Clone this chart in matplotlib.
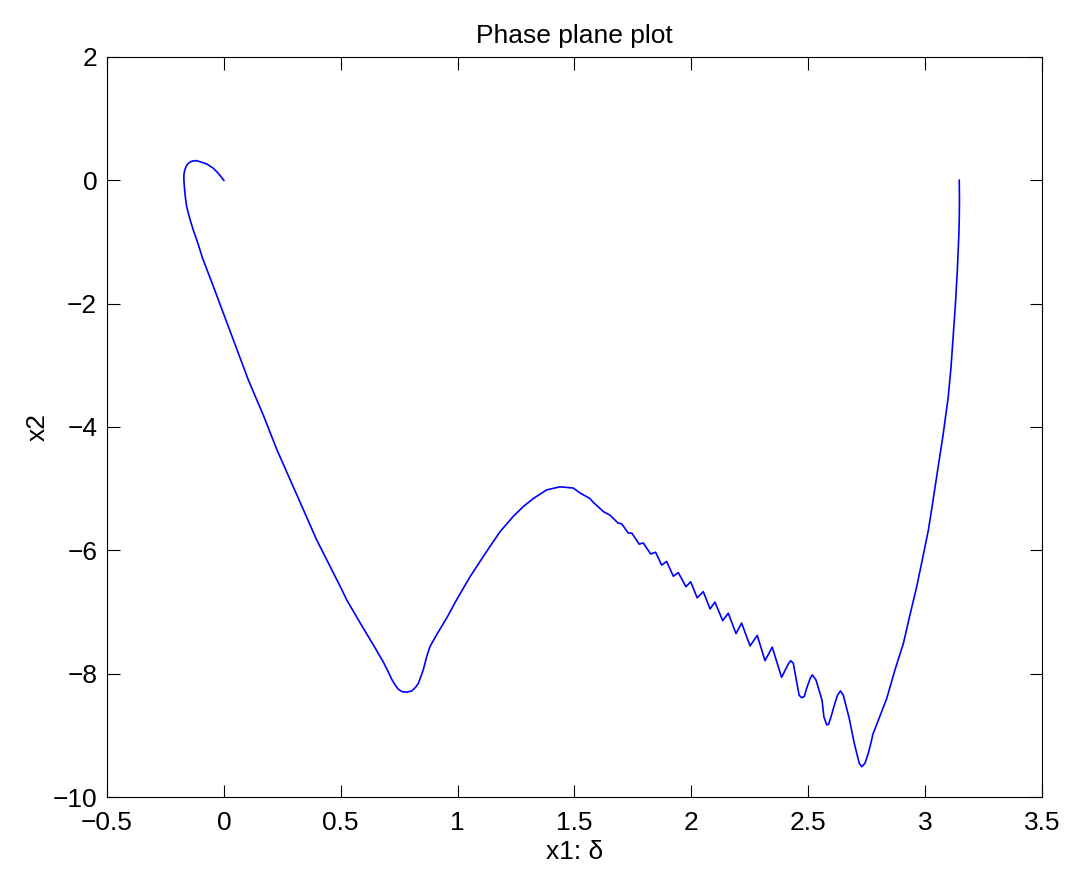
import matplotlib
matplotlib.use("Agg")
import matplotlib.pyplot as plt

# phase plane trajectory
x1 = [0.0, -0.024, -0.045, -0.073, -0.102, -0.12, -0.138, -0.152, -0.162,
      -0.168, -0.171, -0.171, -0.169, -0.165, -0.159, -0.148, -0.131,
      -0.111, -0.091, -0.045, 0.03, 0.105, 0.169, 0.226, 0.297, 0.397,
      0.505, 0.525, 0.596, 0.639, 0.682, 0.703, 0.718, 0.732, 0.746,
      0.761, 0.782, 0.804, 0.818, 0.832, 0.853, 0.868, 0.882, 0.910,
      0.953, 0.996, 1.053, 1.096, 1.138, 1.181, 1.238, 1.281, 1.324,
      1.381, 1.438, 1.495, 1.524, 1.566, 1.580, 1.623, 1.652, 1.687,
      1.702, 1.730, 1.745, 1.777, 1.794, 1.826, 1.847, 1.873, 1.894,
      1.923, 1.944, 1.977, 1.997, 2.025, 2.051, 2.080, 2.101, 2.134,
      2.158, 2.191, 2.215, 2.251, 2.282, 2.315, 2.346, 2.386, 2.415,
      2.425, 2.436, 2.461, 2.472, 2.483, 2.493, 2.508, 2.517, 2.533,
      2.559, 2.567, 2.579, 2.587, 2.596, 2.614, 2.625, 2.638, 2.650,
      2.675, 2.697, 2.718, 2.729, 2.743, 2.757, 2.771, 2.776, 2.836,
      2.871, 2.907, 2.935, 2.964, 2.992, 3.014, 3.032, 3.049, 3.054,
      3.078, 3.099, 3.111, 3.120, 3.130, 3.138, 3.144, 3.146, 3.147,
      3.146]
x2 = [0.0, 0.114, 0.195, 0.265, 0.302, 0.32, 0.309, 0.276, 0.221,
      0.156, 0.087, 0.006, -0.103, -0.265, -0.427, -0.59, -0.805,
      -1.021, -1.264, -1.72, -2.48, -3.24, -3.81, -4.36, -4.97, -5.83,
      -6.64, -6.80, -7.26, -7.53, -7.81, -7.97, -8.09, -8.18, -8.25,
      -8.29, -8.30, -8.28, -8.23, -8.16, -7.94, -7.72, -7.56, -7.37,
      -7.10, -6.80, -6.43, -6.18, -5.94, -5.70, -5.45, -5.29, -5.16,
      -5.02, -4.97, -4.99, -5.07, -5.16, -5.22, -5.37, -5.43, -5.56,
      -5.57, -5.72, -5.72, -5.90, -5.88, -6.06, -6.03, -6.24, -6.18,
      -6.42, -6.36, -6.59, -6.51, -6.77, -6.67, -6.95, -6.84, -7.14,
      -7.02, -7.35, -7.18, -7.55, -7.38, -7.79, -7.57, -8.06, -7.84,
      -7.79, -7.83, -8.35, -8.39, -8.37, -8.24, -8.08, -8.02, -8.10,
      -8.43, -8.70, -8.83, -8.82, -8.72, -8.48, -8.35, -8.28, -8.35,
      -8.72, -9.13, -9.45, -9.51, -9.45, -9.29, -9.08, -8.99, -8.40,
      -7.94, -7.51, -7.05, -6.59, -6.08, -5.67, -5.24, -4.81, -4.69,
      -4.10, -3.51, -3.02, -2.54, -1.99, -1.45, -0.91, -0.64, -0.32,
      0.0]

x_ticks = [-0.5, 0, 0.5, 1, 1.5, 2, 2.5, 3, 3.5]
x_tick_labels = ["\u22120.5", "0", "0.5", "1", "1.5", "2", "2.5", "3", "3.5"]
y_ticks = [-10, -8, -6, -4, -2, 0, 2]
y_tick_labels = ["\u221210", "\u22128", "\u22126", "\u22124", "\u22122", "0", "2"]

plt.rcParams["font.family"] = ["Liberation Sans", "DejaVu Sans"]

fig = plt.figure(figsize=(10.73, 8.74), dpi=100)
ax = fig.add_axes([0.0997, 0.0881, 0.8714, 0.8467])

ax.plot(x1, x2, color=(0, 0, 1), linewidth=1.2)

ax.set_xlim(-0.5, 3.5)
ax.set_ylim(-10, 2)
ax.set_xticks(x_ticks)
ax.set_xticklabels(x_tick_labels)
ax.set_yticks(y_ticks)
ax.set_yticklabels(y_tick_labels)
ax.tick_params(direction="in", length=9, width=0.8, top=True, right=True,
               labelsize=19)
ax.tick_params(axis="x", pad=10)
ax.tick_params(axis="y", pad=7)
for spine in ax.spines.values():
    spine.set_linewidth(0.8)

ax.set_title("Phase plane plot", fontsize=19, pad=10)
ax.set_xlabel("x1: \u03b4", fontsize=19, labelpad=4)
ax.set_ylabel("x2", fontsize=19, labelpad=2)

fig.savefig("out.png", dpi=100)
